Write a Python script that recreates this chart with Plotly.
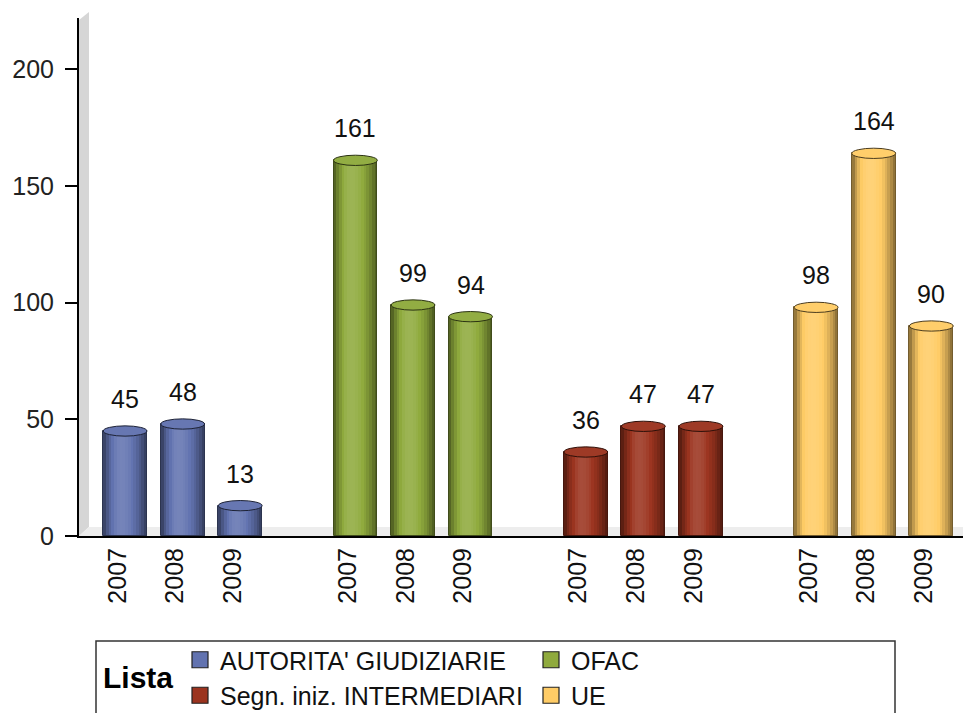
import plotly.graph_objects as go

# ---- data ----
groups = ["AUTORITA' GIUDIZIARIE", "OFAC", "Segn. iniz. INTERMEDIARI", "UE"]
years = ["2007", "2008", "2009"]
values = {
    "AUTORITA' GIUDIZIARIE": [45, 48, 13],
    "OFAC": [161, 99, 94],
    "Segn. iniz. INTERMEDIARI": [36, 47, 47],
    "UE": [98, 164, 90],
}
colors = {
    "AUTORITA' GIUDIZIARIE": (98, 115, 176),
    "OFAC": (143, 170, 61),
    "Segn. iniz. INTERMEDIARI": (155, 52, 31),
    "UE": (255, 204, 102),
}
y_ticks = [0, 50, 100, 150, 200]

FONT = "Liberation Sans, Arial, sans-serif"
W = 963
H = 713
BAR_W = 0.76
N_STRIPS = 16


def shade(rgb, f):
    if f >= 1:
        a = min(f - 1, 1)
        c = [v + (255 - v) * a for v in rgb]
    else:
        c = [v * f for v in rgb]
    return "rgb(%d,%d,%d)" % tuple(int(max(0, min(255, round(v)))) for v in c)


def factor(t):
    if t <= 0.4:
        d = (0.4 - t) / 0.4
    else:
        d = (t - 0.4) / 0.6
    return 1.12 - 0.62 * d * d


# positions from categories
xs, ys, base_cols, xlabels = [], [], [], []
for gi, g in enumerate(groups):
    for yi, yr in enumerate(years):
        xs.append(gi * 4 + yi)
        ys.append(values[g][yi])
        base_cols.append(colors[g])
        xlabels.append(yr)

fig = go.Figure()

# cylinder bodies as shaded strips
sw = BAR_W / N_STRIPS
for i in range(N_STRIPS):
    t = (i + 0.5) / N_STRIPS
    fig.add_trace(go.Bar(
        x=xs, y=ys,
        width=sw * 1.15 if i < N_STRIPS - 1 else sw,
        offset=-BAR_W / 2 + i * sw,
        marker=dict(color=[shade(c, factor(t)) for c in base_cols], line=dict(width=0)),
        showlegend=False, hoverinfo="skip",
    ))

# outline
fig.add_trace(go.Bar(
    x=xs, y=ys, width=BAR_W, offset=-BAR_W / 2,
    marker=dict(color="rgba(0,0,0,0)", line=dict(width=1, color=[shade(c, 0.45) for c in base_cols])),
    showlegend=False, hoverinfo="skip",
))

# legend proxies
for g in groups:
    fig.add_trace(go.Scatter(
        x=[None], y=[None], mode="markers", name=g,
        marker=dict(symbol="square", size=16, color=shade(colors[g], 1.0),
                    line=dict(width=1.2, color="#222")),
    ))

PL, PR, PT, PB = 79, 963, 18, 536
PW, PH = PR - PL, PB - PT


def px(x):
    return (x - PL) / PW


def py(y):
    return (PB - y) / PH


shapes = []
# 3D wall and floor (decoration)
shapes.append(dict(type="path", xref="paper", yref="paper", layer="below",
                   path="M 0,0 L 0.0113,0.0174 L 0.0113,1.0116 L 0,0.996 Z",
                   fillcolor="#D6D6D6", line=dict(width=0)))
shapes.append(dict(type="path", xref="paper", yref="paper", layer="below",
                   path="M 0,0 L 0.0113,0.0174 L 1,0.0174 L 1,0 Z",
                   fillcolor="#EDEDED", line=dict(width=0)))
# cylinder caps
cap_h = 2.2
for x, v, c in zip(xs, ys, base_cols):
    shapes.append(dict(type="circle", xref="x", yref="y",
                       x0=x - BAR_W / 2, x1=x + BAR_W / 2, y0=v - cap_h, y1=v + cap_h,
                       fillcolor=shade(c, 1.03), line=dict(width=1, color=shade(c, 0.3))))
# legend box
shapes.append(dict(type="rect", xref="paper", yref="paper",
                   x0=px(96), x1=px(895), y0=py(641), y1=py(722),
                   line=dict(width=1.5, color="#333"), fillcolor="rgba(0,0,0,0)"))

annotations = []
for x, v in zip(xs, ys):
    annotations.append(dict(x=x, y=v, xref="x", yref="y", text=str(v), showarrow=False,
                            yanchor="bottom", yshift=16,
                            font=dict(family=FONT, size=25, color="#111")))
annotations.append(dict(x=px(101), y=py(677), xref="paper", yref="paper", text="<b>Lista</b>",
                        showarrow=False, xanchor="left", yanchor="middle",
                        font=dict(family=FONT, size=30, color="#000")))

fig.update_layout(
    template="none",
    width=W, height=H,
    margin=dict(l=PL, r=W - PR, t=PT, b=H - PB, pad=0),
    paper_bgcolor="white", plot_bgcolor="white",
    barmode="overlay", bargap=0,
    font=dict(family=FONT, color="#111"),
    shapes=shapes, annotations=annotations,
    legend=dict(orientation="h", xref="container", yref="container",
                x=180 / W, y=1 - 637 / H, xanchor="left", yanchor="top",
                font=dict(family=FONT, size=25, color="#111"),
                entrywidth=306, entrywidthmode="pixels",
                bgcolor="rgba(0,0,0,0)", borderwidth=0, itemsizing="trace", tracegroupgap=0),
    xaxis=dict(range=[-0.8, 14.55], tickvals=[x - 0.13 for x in xs], ticktext=xlabels, tickangle=-90,
               showgrid=False, zeroline=False, showline=True, linecolor="#000", linewidth=2,
               ticks="", automargin=False, tickfont=dict(family=FONT, size=25, color="#111")),
    yaxis=dict(range=[0, 222], tickvals=y_ticks, showgrid=False, zeroline=False,
               showline=True, linecolor="#000", linewidth=2, ticks="outside", ticklen=12,
               tickcolor="#000", tickwidth=2, automargin=False, ticklabelstandoff=6,
               tickfont=dict(family=FONT, size=25, color="#222")),
)

fig.write_html("out.html", config={"displayModeBar": False},
               post_script="document.body.style.margin='0';document.body.style.overflow='hidden';")
